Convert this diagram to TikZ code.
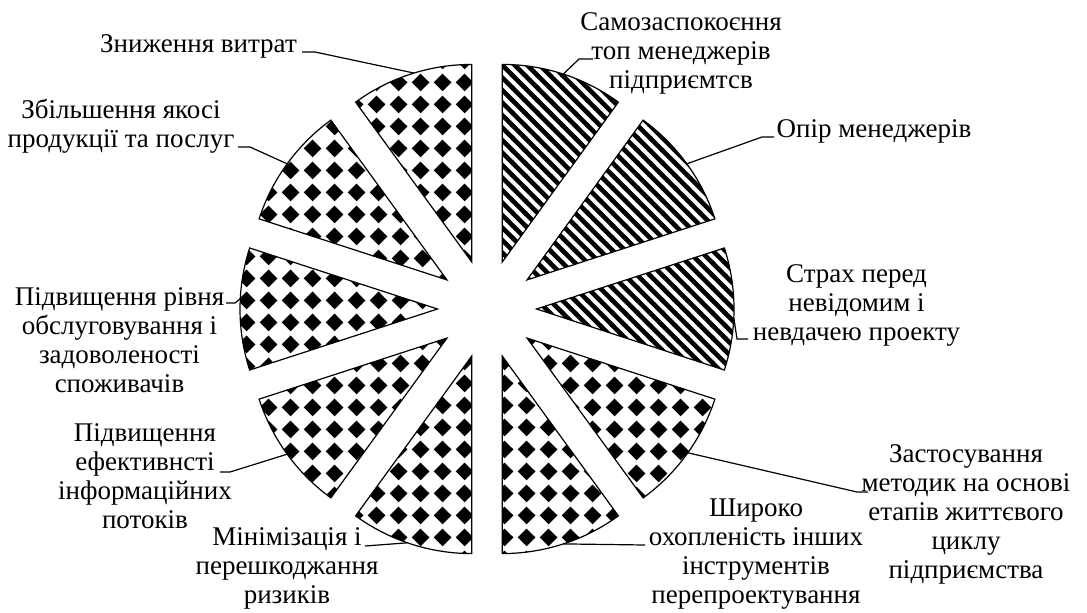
\documentclass[tikz,border=0pt]{standalone}
\usepackage{fontspec}
\setmainfont{Liberation Serif}
\usetikzlibrary{patterns,calc}
\pgfdeclarepatternformonly{mystripes}{\pgfqpoint{-1pt}{-1pt}}{\pgfqpoint{13.5pt}{13.5pt}}{\pgfqpoint{12.5pt}{12.5pt}}{%
  \pgfsetlinewidth{4.6pt}%
  \pgfpathmoveto{\pgfqpoint{-1pt}{13.5pt}}\pgfpathlineto{\pgfqpoint{13.5pt}{-1pt}}%
  \pgfpathmoveto{\pgfqpoint{-1pt}{1pt}}\pgfpathlineto{\pgfqpoint{1pt}{-1pt}}%
  \pgfpathmoveto{\pgfqpoint{11.5pt}{13.5pt}}\pgfpathlineto{\pgfqpoint{13.5pt}{11.5pt}}%
  \pgfusepath{stroke}}
\pgfdeclarepatternformonly{mydiamonds}{\pgfpointorigin}{\pgfqpoint{21.5pt}{21.5pt}}{\pgfqpoint{21.5pt}{21.5pt}}{%
  \pgfpathmoveto{\pgfqpoint{10.75pt}{1.75pt}}\pgfpathlineto{\pgfqpoint{19.75pt}{10.75pt}}%
  \pgfpathlineto{\pgfqpoint{10.75pt}{19.75pt}}\pgfpathlineto{\pgfqpoint{1.75pt}{10.75pt}}%
  \pgfpathclose\pgfusepath{fill}}
\begin{document}
\begin{tikzpicture}[x=1pt,y=1pt,
  lbl/.style={font=\fontsize{27}{29}\selectfont, align=center, inner sep=0pt, anchor=base},
  leader/.style={draw=black, line width=1.2pt},
  sector/.style={draw=black, line width=1.2pt, line join=miter}]
\useasboundingbox (0,0) rectangle (1087,-613);
\begin{scope}[shift={(487,-309)}]
  \foreach \b/\p in {72/mystripes,36/mystripes,0/mystripes,-36/mydiamonds,-72/mydiamonds,-108/mydiamonds,-144/mydiamonds,180/mydiamonds,144/mydiamonds,108/mydiamonds}
    \draw[sector, pattern=\p] (\b:49.5) -- ++(\b+18:197.5) arc[start angle=\b+18, end angle=\b-18, radius=197.5] -- cycle;
  \coordinate (e1) at ($(108:49.5)+(107:197.5)$);
  \coordinate (e2) at ($(144:49.5)+(144:197.5)$);
  \coordinate (e3) at ($(72:49.5)+(72:197.5)$);
  \coordinate (e4) at ($(36:49.5)+(36:197.5)$);
  \coordinate (e5) at ($(0:49.5)+(-2.5:197.5)$);
  \coordinate (e6) at ($(-36:49.5)+(-35.5:197.5)$);
  \coordinate (e7) at ($(-72:49.5)+(-72:197.5)$);
  \coordinate (e8) at ($(-108:49.5)+(-109:197.5)$);
  \coordinate (e9) at ($(-144:49.5)+(-144:197.5)$);
  \coordinate (e10) at ($(180:49.5)+(177:197.5)$);
\end{scope}
\node[lbl] (t1) at (198.5,-52) {Зниження витрат};
\node[lbl] (t2) at (121,-147) {Збільшення якосі\\продукції та послуг};
\node[lbl] (t3) at (681,-88) {Самозаспокоєння\\топ менеджерів\\підприємтсв};
\node[lbl] (t4) at (874,-137) {Опір менеджерів};
\node[lbl] (t5) at (856.5,-340) {Страх перед\\невідомим і\\невдачею проекту};
\node[lbl] (t6) at (966,-578) {Застосування\\методик на основі\\етапів життєвого\\циклу\\підприємства};
\node[lbl] (t7) at (756,-603) {Широко\\охопленість інших\\інструментів\\перепроектування};
\node[lbl] (t8) at (287,-603) {Мінімізація і\\перешкоджання\\ризиків};
\node[lbl] (t9) at (145,-528) {Підвищення\\ефективнсті\\інформаційних\\потоків};
\node[lbl] (t10) at (119.5,-392) {Підвищення рівня\\обслуговування і\\задоволеності\\споживачів};
\coordinate (s1) at (302,-52);
\coordinate (s2) at (238,-147);
\coordinate (s3) at (593,-59);
\coordinate (s4) at (774,-137);
\coordinate (s5) at (748,-339);
\coordinate (s6) at (868,-492);
\coordinate (s7) at (645,-545);
\coordinate (s8) at (365,-546);
\coordinate (s9) at (220,-472);
\coordinate (s10) at (226,-303);
\draw[leader] (s1) -- ++(13,0) -- (e1);
\draw[leader] (s2) -- ++(12,0) -- (e2);
\draw[leader] (s3) -- ++(-14,0) -- (e3);
\draw[leader] (s4) -- ++(-12,0) -- (e4);
\draw[leader] (s5) -- ++(-11,0) -- (e5);
\draw[leader] (s6) -- ++(-11,0) -- (e6);
\draw[leader] (s7) -- (e7);
\draw[leader] (s8) -- (e8);
\draw[leader] (s9) -- ++(10,0) -- (e9);
\draw[leader] (s10) -- ++(9,0) -- (e10);
\end{tikzpicture}
\end{document}
